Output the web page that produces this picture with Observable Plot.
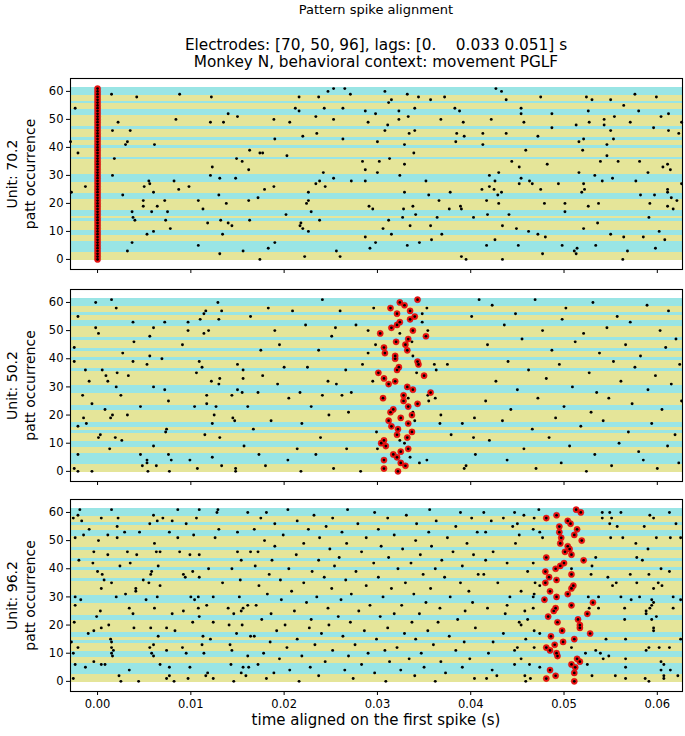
<!DOCTYPE html>
<html><head><meta charset="utf-8">
<script src="https://cdn.jsdelivr.net/npm/d3@7"></script>
<script src="https://cdn.jsdelivr.net/npm/@observablehq/plot@0.6"></script>
<style>
body{margin:0;background:#fff;}
#wrap{position:relative;width:685px;height:736px;overflow:hidden;font-family:"DejaVu Sans",sans-serif;color:#000;}
.t{position:absolute;left:70px;width:612px;text-align:center;white-space:pre;line-height:1;}
.panel{position:absolute;left:0;}
</style></head><body><div id="wrap">
<div class="t" style="top:3px;font-size:13px">Pattern spike alignment</div>
<div class="t" style="top:38px;font-size:15.3px">Electrodes: [70, 50, 96], lags: [0.    0.033 0.051] s</div>
<div class="t" style="top:55px;font-size:15.3px">Monkey N, behavioral context: movement PGLF</div>
<div class="t" style="top:713px;font-size:15px">time aligned on the first spike (s)</div>
</div>
<script>
// occurrence rows 0..61, band colour (y = yellow, c = cyan)
const bandKinds = ["y","y","y","c","c","c","c","y","y","c","c","y","y","y","c","y","c","c","y","y","y","y","c","c","y","y","y","y","c","c","c","y","y","y","y","y","c","y","y","y","c","y","y","c","y","y","y","c","y","y","y","y","c","c","y","y","c","y","y","c","c","c"];
const xTicks = [0, 0.01, 0.02, 0.03, 0.04, 0.05, 0.06];
const yTicks = [0, 10, 20, 30, 40, 50, 60];
const units = ["Unit: 70.2", "Unit: 50.2", "Unit: 96.2"];

// pattern spike times per occurrence (index = occurrence)
const pattern70 = [0,0,0,0,0,0,0,0,0,0,0,0,0,0,0,0,0,0,0,0,0,0,0,0,0,0,0,0,0,0,0,0,0,0,0,0,0,0,0,0,0,0,0,0,0,0,0,0,0,0,0,0,0,0,0,0,0,0,0,0,0,0];
const pattern50 = [0.0322,0.0307,0.0330,0.0325,0.0307,0.0321,0.0317,0.0325,0.0333,0.0309,0.0304,0.0307,0.0332,0.0321,0.0337,0.0322,0.0315,0.0333,0.0312,0.0325,0.0337,0.0314,0.0317,0.0333,0.0343,0.0328,0.0306,0.0328,0.0357,0.0338,0.0332,0.0312,0.0319,0.0307,0.0350,0.0301,0.0321,0.0323,0.0344,0.0343,0.0319,0.0319,0.0308,0.0332,0.0307,0.0330,0.0320,0.0333,0.0352,0.0303,0.0338,0.0315,0.0321,0.0324,0.0335,0.0340,0.0321,0.0335,0.0314,0.0329,0.0324,0.0343];
const pattern96 = [0.0511,0.0481,0.0491,0.0511,0.0485,0.0512,0.0508,0.0517,0.0514,0.0493,0.0492,0.0485,0.0481,0.0490,0.0499,0.0511,0.0486,0.0528,0.0498,0.0517,0.0517,0.0493,0.0515,0.0483,0.0525,0.0489,0.0491,0.0508,0.0531,0.0479,0.0492,0.0504,0.0485,0.0508,0.0510,0.0480,0.0492,0.0484,0.0508,0.0480,0.0491,0.0496,0.0500,0.0521,0.0481,0.0508,0.0501,0.0506,0.0504,0.0496,0.0519,0.0497,0.0511,0.0495,0.0514,0.0495,0.0507,0.0504,0.0481,0.0492,0.0518,0.0513];

// other spikes: [time (s), occurrence]
const spikes70 = [[-0.0024,54],[-0.0021,38],[-0.0029,42],[-0.0028,24],[-0.0013,26],
[0.0015,59],[0.0042,58],[0.0088,59],[0.0122,58],[0.0140,52],[0.0150,51],[0.0022,49],[0.0084,50],[0.0121,49],[0.0135,49],[0.0016,46],[0.0035,46],[0.0032,42],[0.0030,41],[0.0061,41],[0.0163,39],[0.0018,36],[0.0149,36],[0.0155,35],[0.0123,33],[0.0162,32],[0.0016,30],[0.0121,30],[0.0131,29],[0.0148,29],[0.0055,28],[0.0056,27],[0.0082,28],[0.0050,26],[0.0098,26],[0.0060,24],[0.0087,25],[0.0027,23],[0.0130,23],[0.0049,21],[0.0072,21],[0.0108,21],[0.0162,21],[0.0049,19],[0.0064,19],[0.0138,20],[0.0113,18],[0.0037,17],[0.0058,17],[0.0075,17],[0.0038,15],[0.0040,14],[0.0073,14],[0.0118,13],[0.0132,14],[0.0140,13],[0.0144,12],[0.0163,14],[0.0078,11],[0.0060,10],[0.0053,9],[0.0134,9],[0.0037,6],[0.0108,5],[0.0032,3],[0.0131,2],[0.0156,3],
[0.0247,60],[0.0253,61],[0.0265,61],[0.0271,59],[0.0216,58],[0.0237,58],[0.0308,60],[0.0315,57],[0.0312,56],[0.0212,54],[0.0216,53],[0.0243,54],[0.0263,54],[0.0287,53],[0.0298,52],[0.0323,53],[0.0189,50],[0.0206,49],[0.0234,51],[0.0253,50],[0.0290,49],[0.0323,50],[0.0311,48],[0.0308,46],[0.0235,45],[0.0190,43],[0.0220,44],[0.0263,43],[0.0300,42],[0.0174,38],[0.0177,38],[0.0203,37],[0.0284,35],[0.0302,35],[0.0313,36],[0.0287,32],[0.0300,31],[0.0324,30],[0.0242,31],[0.0253,29],[0.0238,28],[0.0272,28],[0.0287,28],[0.0234,27],[0.0244,26],[0.0189,26],[0.0179,25],[0.0226,24],[0.0172,22],[0.0226,21],[0.0224,20],[0.0291,19],[0.0295,18],[0.0229,17],[0.0202,16],[0.0238,14],[0.0312,14],[0.0218,13],[0.0217,12],[0.0220,11],[0.0226,10],[0.0306,11],[0.0315,9],[0.0287,8],[0.0190,6],[0.0298,6],[0.0183,4],[0.0292,4],[0.0256,3],[0.0260,1],[0.0222,1],[0.0174,0],
[0.0427,61],[0.0433,60],[0.0332,59],[0.0344,58],[0.0372,58],[0.0357,57],[0.0438,57],[0.0475,58],[0.0340,54],[0.0383,54],[0.0388,53],[0.0454,54],[0.0454,52],[0.0333,51],[0.0368,50],[0.0392,49],[0.0422,50],[0.0457,49],[0.0334,45],[0.0340,46],[0.0385,45],[0.0393,44],[0.0413,45],[0.0438,45],[0.0472,44],[0.0384,42],[0.0329,41],[0.0413,41],[0.0339,38],[0.0459,39],[0.0444,35],[0.0452,33],[0.0329,34],[0.0420,30],[0.0430,31],[0.0454,29],[0.0463,28],[0.0466,27],[0.0452,27],[0.0352,28],[0.0426,28],[0.0420,26],[0.0412,25],[0.0425,25],[0.0433,24],[0.0429,23],[0.0475,25],[0.0329,24],[0.0378,24],[0.0355,23],[0.0366,21],[0.0417,21],[0.0430,20],[0.0479,20],[0.0338,19],[0.0328,18],[0.0377,18],[0.0389,19],[0.0390,18],[0.0341,16],[0.0418,16],[0.0441,16],[0.0327,15],[0.0364,15],[0.0403,15],[0.0335,12],[0.0357,12],[0.0434,12],[0.0449,11],[0.0462,10],[0.0472,9],[0.0369,9],[0.0358,7],[0.0426,7],[0.0345,6],[0.0332,5],[0.0417,5],[0.0451,5],[0.0477,2],[0.0390,1],[0.0395,0],[0.0434,0],
[0.0576,59],[0.0599,58],[0.0524,58],[0.0530,57],[0.0550,57],[0.0564,55],[0.0487,52],[0.0526,53],[0.0580,53],[0.0612,52],[0.0554,51],[0.0543,50],[0.0604,51],[0.0527,49],[0.0543,48],[0.0571,49],[0.0513,48],[0.0626,49],[0.0487,47],[0.0596,47],[0.0550,46],[0.0612,46],[0.0623,45],[0.0521,43],[0.0553,43],[0.0516,42],[0.0546,41],[0.0520,39],[0.0546,37],[0.0539,35],[0.0558,35],[0.0581,35],[0.0482,34],[0.0606,33],[0.0611,34],[0.0614,32],[0.0516,31],[0.0590,31],[0.0533,30],[0.0552,29],[0.0541,28],[0.0577,28],[0.0494,27],[0.0521,27],[0.0626,27],[0.0522,25],[0.0519,24],[0.0611,25],[0.0611,24],[0.0582,23],[0.0597,23],[0.0615,22],[0.0621,21],[0.0501,20],[0.0537,20],[0.0592,20],[0.0526,19],[0.0611,19],[0.0617,18],[0.0501,17],[0.0591,15],[0.0536,13],[0.0521,11],[0.0602,10],[0.0550,9],[0.0480,8],[0.0564,8],[0.0585,8],[0.0608,7],[0.0498,5],[0.0534,5],[0.0514,4],[0.0511,3],[0.0513,2],[0.0568,3],[0.0598,4],[0.0563,0]];

const spikes50 = [[-0.0002,60],[0.0015,61],[0.0020,58],[-0.0021,55],[-0.0002,51],[0.0001,49],[0.0038,53],[0.0060,51],[0.0056,48],[0.0072,53],[0.0039,46],[-0.0025,44],[0.0027,42],[0.0091,45],[-0.0025,39],[0.0038,39],[0.0056,41],[0.0053,38],[0.0069,40],[-0.0013,36],[0.0005,36],[0.0009,34],[0.0021,35],[-0.0009,32],[0.0011,32],[0.0033,34],[0.0020,30],[0.0060,30],[-0.0016,27],[0.0025,27],[0.0072,29],[0.0076,25],[-0.0006,24],[0.0046,23],[0.0008,22],[-0.0015,19],[0.0014,19],[0.0016,20],[0.0032,20],[-0.0021,16],[-0.0012,17],[0.0001,12],[0.0003,13],[0.0019,12],[0.0026,11],[0.0013,8],[0.0060,9],[0.0073,14],[0.0074,15],[-0.0021,6],[-0.0025,1],[-0.0021,0],[-0.0006,0],[0.0046,6],[0.0048,2],[0.0053,4],[0.0053,3],[0.0054,0],[0.0063,2],[0.0076,6],[0.0079,4],[0.0077,0],[0.0097,53],[0.0097,50],[0.0099,4],[0.0107,1],[0.0104,23],[0.0106,35],[0.0109,39],[0.0112,37],[0.0110,54],[0.0114,56],[0.0116,57],[0.0119,50],[0.0114,49],[0.0115,13],[0.0117,27],[0.0117,24],[0.0123,5],[0.0123,17],[0.0125,20],[0.0127,23],[0.0122,32],[0.0130,31],[0.0131,33],[0.0129,60],[0.0130,54],[0.0133,57],[0.0131,12],[0.0133,2],[0.0144,27],[0.0145,19],[0.0147,18],[0.0148,1],[0.0148,0],[0.0150,38],[0.0150,29],[0.0155,28],[0.0156,33],
[0.0175,43],[0.0177,34],[0.0157,9],[0.0217,28],[0.0219,17],[0.0223,52],[0.0237,43],[0.0241,61],[0.0239,12],[0.0200,37],[0.0204,4],[0.0186,18],[0.0164,55],[0.0172,28],[0.0180,2],[0.0190,50],[0.0209,57],[0.0229,23],[0.0247,32],[0.0253,1],[0.0214,8],[0.0161,23],[0.0195,45],[0.0234,6],[0.0248,20],[0.0167,15],[0.0183,58],[0.0225,37],[0.0205,26],[0.0251,48],[0.0156,36],[0.0218,0],[0.0193,31],[0.0241,27],[0.0173,6],
[0.0409,61],[0.0260,57],[0.0296,58],[0.0353,58],[0.0348,56],[0.0401,55],[0.0348,53],[0.0277,52],[0.0255,51],[0.0290,50],[0.0354,50],[0.0324,49],[0.0337,46],[0.0298,45],[0.0290,42],[0.0338,41],[0.0284,38],[0.0361,38],[0.0375,38],[0.0266,36],[0.0342,35],[0.0363,36],[0.0295,32],[0.0256,31],[0.0262,27],[0.0272,28],[0.0333,26],[0.0354,27],[0.0362,26],[0.0355,25],[0.0269,21],[0.0338,21],[0.0340,18],[0.0368,20],[0.0367,17],[0.0391,17],[0.0404,19],[0.0299,14],[0.0379,13],[0.0403,12],[0.0324,11],[0.0329,10],[0.0267,8],[0.0300,8],[0.0335,5],[0.0345,3],[0.0353,4],[0.0405,6],[0.0393,1],[0.0395,2],[0.0282,0],
[0.0423,59],[0.0448,56],[0.0469,61],[0.0502,58],[0.0531,60],[0.0557,55],[0.0589,59],[0.0612,57],[0.0436,52],[0.0477,50],[0.0498,54],[0.0521,49],[0.0546,51],[0.0571,53],[0.0603,50],[0.0620,47],[0.0418,45],[0.0455,47],[0.0487,43],[0.0512,46],[0.0538,42],[0.0566,45],[0.0582,41],[0.0609,44],[0.0440,39],[0.0462,36],[0.0495,38],[0.0527,35],[0.0553,39],[0.0576,37],[0.0598,34],[0.0624,38],[0.0427,32],[0.0450,29],[0.0481,33],[0.0509,30],[0.0535,28],[0.0561,32],[0.0590,29],[0.0615,31],[0.0416,25],[0.0443,22],[0.0472,26],[0.0500,23],[0.0529,21],[0.0548,26],[0.0573,24],[0.0605,22],[0.0626,25],[0.0434,18],[0.0466,15],[0.0491,19],[0.0518,16],[0.0542,18],[0.0569,14],[0.0594,17],[0.0619,13],[0.0420,11],[0.0457,8],[0.0484,12],[0.0506,9],[0.0533,6],[0.0559,10],[0.0580,7],[0.0611,9],[0.0439,4],[0.0470,1],[0.0497,3],[0.0524,0],[0.0551,2],[0.0585,4],[0.0600,1],[0.0623,3]];

const spikes96 = [
[-0.0019,61],[0.0015,61],[0.0086,61],[0.0109,61],[0.0129,61],[-0.0021,59],[0.0060,59],[0.0128,60],[0.0161,60],[-0.0026,58],[0.0004,58],[0.0022,58],[0.0070,58],[0.0106,58],[-0.0017,57],[0.0064,57],[0.0080,57],[0.0056,56],[0.0095,56],[0.0021,55],[-0.0009,54],[0.0130,54],[0.0029,53],[0.0045,53],[0.0077,53],[0.0150,53],[-0.0015,52],[0.0011,52],[0.0103,52],[-0.0024,51],[0.0021,51],[0.0086,51],[0.0126,51],[0.0001,50],[0.0061,49],
[-0.0004,46],[0.0011,45],[0.0032,46],[0.0042,45],[0.0063,46],[0.0067,46],[0.0088,46],[0.0099,45],[0.0150,46],[0.0164,46],[-0.0020,43],[0.0035,42],[0.0109,45],[0.0154,43],[-0.0005,42],[0.0024,41],[0.0065,41],[0.0119,40],[0.0144,40],[0.0000,39],[0.0005,38],[0.0057,38],[0.0058,39],[0.0092,38],[0.0102,39],[0.0109,37],[0.0153,36],[0.0007,36],[0.0049,36],[0.0094,37],
[0.0004,33],[0.0015,35],[0.0041,33],[0.0041,32],[0.0067,34],[0.0055,35],[0.0134,35],[-0.0024,30],[-0.0018,29],[0.0020,30],[0.0030,31],[0.0052,29],[0.0064,30],[0.0100,30],[0.0104,29],[0.0108,30],[0.0124,30],[0.0152,30],[-0.0024,27],[0.0003,25],[0.0034,26],[0.0061,26],[0.0092,25],[0.0108,26],[0.0117,27],[0.0140,26],[0.0156,26],[0.0161,27],
[-0.0001,23],[0.0038,24],[0.0080,24],[0.0109,23],[0.0146,24],[0.0154,25],[-0.0025,21],[0.0004,19],[0.0012,20],[0.0039,19],[0.0057,19],[0.0074,19],[0.0102,21],[0.0124,21],[0.0141,20],[0.0155,20],[-0.0010,17],[-0.0004,18],[0.0014,15],[0.0015,14],[0.0065,16],[0.0083,18],[0.0113,16],[0.0121,15],[0.0149,17],[0.0164,16],
[-0.0028,14],[-0.0021,12],[0.0015,12],[0.0017,11],[0.0056,12],[0.0060,13],[0.0074,11],[0.0091,12],[0.0112,13],[0.0142,13],[0.0144,11],[-0.0026,10],[0.0015,10],[0.0016,9],[0.0058,10],[0.0060,9],[0.0095,10],[0.0114,10],[0.0161,9],[-0.0024,6],[-0.0013,5],[-0.0004,7],[0.0004,6],[0.0008,6],[0.0034,4],[0.0067,6],[0.0077,5],[0.0099,5],[0.0143,6],[0.0156,5],[0.0162,5],[-0.0026,1],[0.0023,2],[0.0025,0],[0.0044,0],[0.0074,1],[0.0077,2],[0.0082,0],[0.0097,1],[0.0116,2],[0.0118,3],[0.0124,1],[0.0146,0],[0.0154,3],[0.0159,2],
[0.0204,61],[0.0268,61],[0.0356,61],[0.0181,60],[0.0297,60],[0.0389,60],[0.0232,59],[0.0331,59],[0.0175,58],[0.0252,58],[0.0311,58],[0.0401,58],[0.0214,57],[0.0363,57],[0.0190,56],[0.0279,56],[0.0342,56],[0.0245,55],[0.0384,55],[0.0168,54],[0.0226,54],[0.0301,54],[0.0262,53],[0.0355,53],[0.0407,53],[0.0199,52],[0.0318,52],[0.0238,51],[0.0288,51],[0.0375,51],[0.0179,50],[0.0341,50],[0.0221,49],[0.0267,49],[0.0396,49],[0.0190,48],[0.0304,48],[0.0358,48],[0.0249,47],[0.0327,47],[0.0172,46],[0.0283,46],[0.0381,46],[0.0213,45],[0.0346,45],[0.0403,45],[0.0259,44],[0.0312,44],[0.0187,43],[0.0237,43],[0.0369,43],[0.0296,42],[0.0336,42],[0.0169,41],[0.0254,41],[0.0391,41],[0.0205,40],[0.0322,40],[0.0362,40],[0.0230,39],[0.0277,39],[0.0184,38],[0.0349,38],[0.0408,38],[0.0243,37],[0.0301,37],[0.0372,37],[0.0196,36],[0.0266,36],[0.0221,35],[0.0330,35],[0.0389,35],[0.0173,34],[0.0288,34],[0.0251,33],[0.0315,33],[0.0357,33],[0.0208,32],[0.0398,32],[0.0182,31],[0.0272,31],[0.0339,31],[0.0235,30],[0.0306,30],[0.0378,30],[0.0197,29],[0.0261,29],[0.0224,28],[0.0352,28],[0.0402,28],[0.0170,27],[0.0292,27],[0.0326,27],[0.0247,26],[0.0367,26],[0.0211,25],[0.0280,25],[0.0394,25],[0.0186,24],[0.0318,24],[0.0345,24],[0.0258,23],[0.0303,23],[0.0176,22],[0.0229,22],[0.0386,22],[0.0271,21],[0.0337,21],[0.0365,21],[0.0201,20],[0.0248,20],[0.0227,19],[0.0311,19],[0.0405,19],[0.0192,18],[0.0286,18],[0.0354,18],[0.0240,17],[0.0329,17],[0.0168,16],[0.0263,16],[0.0377,16],[0.0214,15],[0.0299,15],[0.0341,15],[0.0185,14],[0.0393,14],[0.0233,13],[0.0276,13],[0.0360,13],[0.0203,12],[0.0321,12],[0.0252,11],[0.0308,11],[0.0384,11],[0.0178,10],[0.0290,10],[0.0347,10],[0.0219,9],[0.0269,9],[0.0195,8],[0.0334,8],[0.0399,8],[0.0244,7],[0.0313,7],[0.0368,7],[0.0172,6],[0.0283,6],[0.0228,5],[0.0350,5],[0.0391,5],[0.0206,4],[0.0265,4],[0.0325,4],[0.0189,3],[0.0297,3],[0.0373,3],[0.0237,2],[0.0340,2],[0.0181,1],[0.0274,1],[0.0404,1],[0.0216,0],[0.0309,0],[0.0362,0],
[0.0414,60],[0.0447,60],[0.0457,59],[0.0473,61],[0.0541,60],[0.0549,60],[0.0561,60],[0.0592,59],[0.0613,60],[0.0422,57],[0.0435,58],[0.0468,58],[0.0541,58],[0.0551,58],[0.0596,58],[0.0445,55],[0.0450,56],[0.0549,56],[0.0557,55],[0.0586,55],[0.0620,56],[0.0416,53],[0.0467,54],[0.0474,53],[0.0452,52],[0.0477,51],[0.0448,49],[0.0550,51],[0.0563,51],[0.0577,49],[0.0599,51],[0.0614,51],[0.0625,51],[0.0424,46],[0.0590,47],[0.0467,42],[0.0416,43],[0.0439,42],[0.0534,44],[0.0584,43],[0.0578,44],[0.0530,41],[0.0508,40],[0.0604,40],[0.0613,39],[0.0414,38],[0.0461,39],[0.0529,38],[0.0547,37],[0.0571,38],[0.0591,38],[0.0429,35],[0.0469,35],[0.0474,34],[0.0552,34],[0.0556,35],[0.0578,35],[0.0601,35],[0.0605,34],[0.0596,33],[0.0454,32],[0.0468,31],[0.0467,30],[0.0442,30],[0.0526,30],[0.0537,30],[0.0561,30],[0.0572,29],[0.0581,30],[0.0594,29],[0.0617,30],[0.0625,29],[0.0596,28],[0.0418,26],[0.0439,27],[0.0458,25],[0.0437,24],[0.0467,26],[0.0527,26],[0.0537,26],[0.0565,26],[0.0588,25],[0.0592,26],[0.0594,27],[0.0617,26],[0.0588,24],[0.0452,21],[0.0454,20],[0.0461,22],[0.0565,22],[0.0594,22],[0.0599,23],[0.0435,17],[0.0468,18],[0.0474,17],[0.0596,18],[0.0596,19],[0.0459,15],[0.0424,14],[0.0468,12],[0.0450,12],[0.0447,11],[0.0534,11],[0.0539,10],[0.0508,12],[0.0523,10],[0.0545,15],[0.0566,15],[0.0602,12],[0.0613,12],[0.0625,15],[0.0588,11],[0.0591,12],[0.0419,10],[0.0454,8],[0.0542,8],[0.0548,9],[0.0566,8],[0.0447,6],[0.0463,6],[0.0474,5],[0.0604,7],[0.0607,6],[0.0566,5],[0.0525,6],[0.0423,4],[0.0428,2],[0.0458,2],[0.0464,1],[0.0459,0],[0.0417,1],[0.0530,2],[0.0555,2],[0.0566,1],[0.0587,1],[0.0591,0],[0.0607,2],[0.0607,1],[0.0622,2],[0.0614,4],[0.0604,4]];

const bands = bandKinds.map((k, i) => ({occ: i, kind: k}));
const bandColor = {y: "#e5e599", c: "#99e5e5"};

function panel(unit, spikes, pattern, opts) {
  const pat = pattern.map((t, i) => [t, i]);
  return Plot.plot({
    width: 685, height: opts.height,
    marginLeft: 70, marginRight: 3, marginTop: opts.mt, marginBottom: opts.mb,
    style: {fontFamily: "DejaVu Sans, sans-serif", color: "#000", background: "transparent"},
    x: {domain: [-0.0029, 0.0627]},
    y: {domain: [-3.6, 64.6]},
    marks: [
      Plot.rect(bands, {y1: d => d.occ - 0.5, y2: d => d.occ + 0.5, fill: d => bandColor[d.kind], shapeRendering: "crispEdges"}),
      Plot.dot(spikes, {x: d => d[0], y: d => d[1], r: 1.45, fill: "#000", stroke: "none"}),
      Plot.dot(pat, {x: d => d[0], y: d => d[1], r: 3.1, fill: "#f01010", stroke: "#c40808", strokeWidth: 0.4}),
      Plot.dot(pat, {x: d => d[0], y: d => d[1], r: 1.35, fill: "#000", stroke: "none"}),
      Plot.axisY({ticks: yTicks, tickSize: 4, tickPadding: 3, fontSize: 11.5, label: null}),
      Plot.axisX({ticks: xTicks, tickSize: 4, tickPadding: 4, fontSize: 11.5, label: null,
                  tickFormat: opts.showX ? d3.format(".2f") : () => ""}),
      Plot.frame({stroke: "#000", strokeWidth: 1.1}),
      Plot.text([unit + "\npatt occurrence"], {text: d => d, frameAnchor: "left", rotate: -90, dx: -50,
                 fontSize: 14, lineHeight: 1.3, textAnchor: "middle", lineAnchor: "middle", fill: "#000"})
    ]
  });
}

const wrap = document.getElementById("wrap");
const specs = [
  {unit: units[0], spikes: spikes70, pattern: pattern70, top: 74, height: 210, mt: 4, mb: 15, showX: false},
  {unit: units[1], spikes: spikes50, pattern: pattern50, top: 284, height: 211, mt: 5, mb: 14, showX: false},
  {unit: units[2], spikes: spikes96, pattern: pattern96, top: 495, height: 241, mt: 4, mb: 45, showX: true}
];
for (const s of specs) {
  const svg = panel(s.unit, s.spikes, s.pattern, s);
  const div = document.createElement("div");
  div.className = "panel";
  div.style.top = s.top + "px";
  div.appendChild(svg);
  wrap.appendChild(div);
}
</script></body></html>
